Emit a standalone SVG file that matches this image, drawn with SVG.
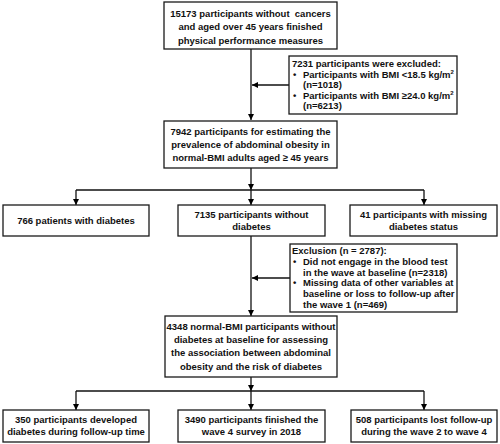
<svg xmlns="http://www.w3.org/2000/svg" width="500" height="444" viewBox="0 0 500 444">
<defs>
<marker id="ah" viewBox="0 0 10 10" refX="10" refY="5" markerWidth="6" markerHeight="6" markerUnits="userSpaceOnUse" orient="auto">
<path d="M0,0 L10,5 L0,10 z" fill="#000"/>
</marker>
<style>
rect{fill:#fff;stroke:#1a1a1a;stroke-width:1.3}
text{font-family:"Liberation Sans",Arial,sans-serif;font-weight:bold;font-size:9.5px;fill:#111}
.c{text-anchor:middle}
.ln{fill:none;stroke:#111;stroke-width:1.3}
.a{marker-end:url(#ah)}
</style>
</defs>
<rect x="0" y="0" width="500" height="444" style="fill:#fff;stroke:none"/>
<g id="connectors">
<path class="ln a" d="M251,49 V120"/>
<path class="ln a" d="M289,85 H252"/>
<path class="ln a" d="M251,168 V190"/>
<path class="ln" d="M76,190 H424"/>
<path class="ln a" d="M76,190 V205"/>
<path class="ln a" d="M251,190 V205"/>
<path class="ln a" d="M424,190 V205"/>
<path class="ln a" d="M251,236 V316"/>
<path class="ln a" d="M290,278 H252"/>
<path class="ln a" d="M251,377 V391"/>
<path class="ln" d="M76,391 H424"/>
<path class="ln a" d="M76,391 V410"/>
<path class="ln a" d="M251,391 V410"/>
<path class="ln a" d="M424,391 V410"/>
</g>
<g id="n1">
<rect x="164" y="2" width="173" height="47"/>
<text class="c" x="250.5" y="16.5" xml:space="preserve">15173 participants without  cancers</text>
<text class="c" x="250.5" y="30">and aged over 45 years finished</text>
<text class="c" x="250.5" y="44">physical performance measures</text>
</g>
<g id="ex1">
<rect x="289" y="56" width="168" height="58"/>
<text x="292" y="67">7231 participants were excluded:</text>
<text x="293" y="78">•</text><text x="303" y="78">Participants with BMI &lt;18.5 kg/m<tspan font-size="6" dy="-4">2</tspan></text>
<text x="303" y="88">(n=1018)</text>
<text x="293" y="99">•</text><text x="303" y="99">Participants with BMI ≥24.0 kg/m<tspan font-size="6" dy="-4">2</tspan></text>
<text x="303" y="109">(n=6213)</text>
</g>
<g id="n2">
<rect x="164" y="121" width="173" height="47"/>
<text class="c" x="250.5" y="135">7942 participants for estimating the</text>
<text class="c" x="250.5" y="148">prevalence of abdominal obesity in</text>
<text class="c" x="250.5" y="161">normal-BMI adults aged ≥ 45 years</text>
</g>
<g id="n3">
<rect x="3" y="205" width="146" height="31"/>
<text class="c" x="76" y="223.5">766 patients with diabetes</text>
</g>
<g id="n4">
<rect x="178" y="205" width="147" height="31"/>
<text class="c" x="251.5" y="218">7135 participants without</text>
<text class="c" x="251.5" y="230">diabetes</text>
</g>
<g id="n5">
<rect x="350" y="205" width="147" height="31"/>
<text class="c" x="423.5" y="218">41 participants with missing</text>
<text class="c" x="423.5" y="230">diabetes status</text>
</g>
<g id="ex2">
<rect x="290" y="244" width="167" height="68"/>
<text x="292" y="253.5">Exclusion (n = 2787):</text>
<text x="293" y="264.5">•</text><text x="303" y="264.5">Did not engage in the blood test</text>
<text x="303" y="275.5">in the wave at baseline (n=2318)</text>
<text x="293" y="286">•</text><text x="303" y="286">Missing data of other variables at</text>
<text x="303" y="297">baseline or loss to follow-up after</text>
<text x="303" y="308">the wave 1 (n=469)</text>
</g>
<g id="n6">
<rect x="165" y="316" width="172" height="61"/>
<text class="c" x="251" y="329.5">4348 normal-BMI participants without</text>
<text class="c" x="251" y="343">diabetes at baseline for assessing</text>
<text class="c" x="251" y="356">the association between abdominal</text>
<text class="c" x="251" y="370">obesity and the risk of diabetes</text>
</g>
<g id="n7">
<rect x="3" y="410" width="146" height="32"/>
<text class="c" x="76" y="422.5">350 participants developed</text>
<text class="c" x="76" y="434.5">diabetes during follow-up time</text>
</g>
<g id="n8">
<rect x="178" y="410" width="147" height="32"/>
<text class="c" x="251.5" y="422.5">3490 participants finished the</text>
<text class="c" x="251.5" y="434.5">wave 4 survey in 2018</text>
</g>
<g id="n9">
<rect x="351" y="410" width="146" height="32"/>
<text class="c" x="424" y="422.5">508 participants lost follow-up</text>
<text class="c" x="424" y="434.5">during the wave 2 to wave 4</text>
</g>
</svg>
